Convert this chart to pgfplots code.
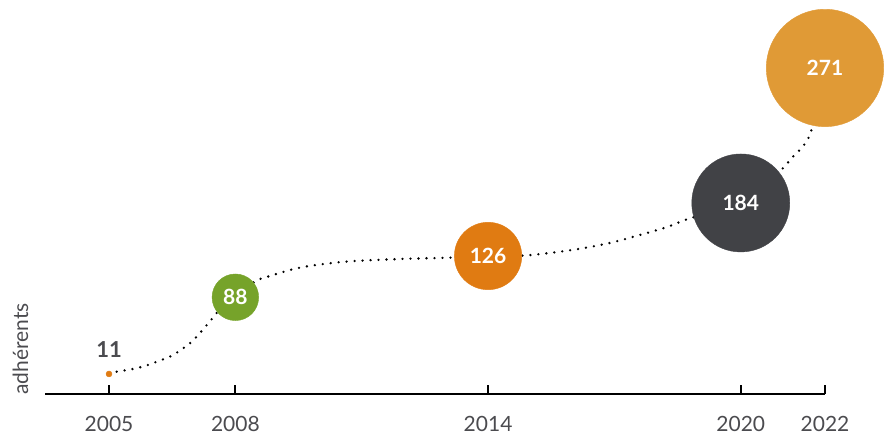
\documentclass[border=0pt]{standalone}
\usepackage{fontspec}
\setmainfont{Lato}
\usepackage{pgfplots}
\pgfplotsset{compat=1.18}

\definecolor{cgreen}{HTML}{76A32A}
\definecolor{corange}{HTML}{E07B12}
\definecolor{cdark}{HTML}{414246}
\definecolor{cgold}{HTML}{E09A36}
\definecolor{ctext}{HTML}{4B4B4F}

% one bubble per year: position (x,y) and the count shown inside
\pgfplotsset{bubble/.style 2 args={only marks,mark=*,mark size=#1,
    mark options={draw=#2,fill=#2},
    nodes near coords,point meta=explicit symbolic,
    nodes near coords style={anchor=center,text=white,
      font=\fontsize{21}{24}\selectfont\bfseries}}}

\begin{document}
\begin{tikzpicture}
\begin{axis}[at={(45pt,40pt)},anchor=south west,scale only axis,
  width=780pt,height=394pt,
  xmin=2003.48,xmax=2022,ymin=0,ymax=328.33,
  clip=false,
  axis x line=bottom,axis y line=none,
  x axis line style={-,line width=2pt,black},
  xtick={2005,2008,2014,2020,2022},
  tick align=inside,major tick length=9pt,
  xtick style={line width=2pt,black},
  /pgf/number format/assume math mode=true,
  xticklabel={\pgfmathprintnumber[1000 sep=]{\tick}},
  xticklabel style={anchor=base,inner sep=1pt,yshift=-37pt,text=ctext,
    font=\fontsize{21}{24}\selectfont},
]
% dotted connector, read along the dots of the reference
\addplot[smooth,line width=2.6pt,line cap=round,dash pattern=on 0pt off 8pt]
  coordinates {(2005,16.7)(2005.18,18.6)(2005.53,20.6)(2005.85,23.3)
  (2006.18,27.5)(2006.49,31.9)(2006.78,38.6)(2006.99,44.4)(2007.22,53.3)
  (2007.44,62.5)(2007.55,67.3)(2008,80.6)(2008.48,94.2)(2008.64,96.4)
  (2009.53,105.3)(2010.62,110.3)(2011.92,112.5)(2013.09,113.6)(2014,115)
  (2014.85,115.4)(2015.53,117.8)(2016.24,121.4)(2016.92,126.1)
  (2017.6,132.5)(2018.23,138.9)(2018.79,146.4)(2020,159.2)
  (2020.89,184.4)(2021.24,197.75)(2021.5,207.5)(2021.69,221.4)(2022,271.7)};
\addplot[bubble={3pt}{corange},nodes near coords style={text=ctext,
    yshift=24pt,font=\fontsize{22}{24}\selectfont\bfseries}]
  coordinates {(2005,16.7)[11]};
\addplot[bubble={23.3pt}{cgreen}] coordinates {(2008,80.6)[88]};
\addplot[bubble={33.7pt}{corange}] coordinates {(2014,115)[126]};
\addplot[bubble={49pt}{cdark}] coordinates {(2020,159.2)[184]};
\addplot[bubble={58.7pt}{cgold}] coordinates {(2022,271.7)[271]};
\end{axis}
\node[rotate=90,anchor=base west,text=ctext,inner sep=0pt,
  font=\fontsize{21}{24}\selectfont] at (28pt,39pt) {adhérents};
\pgfresetboundingbox
\path[use as bounding box] (0,0) rectangle (885pt,434pt);
\end{tikzpicture}
\end{document}
